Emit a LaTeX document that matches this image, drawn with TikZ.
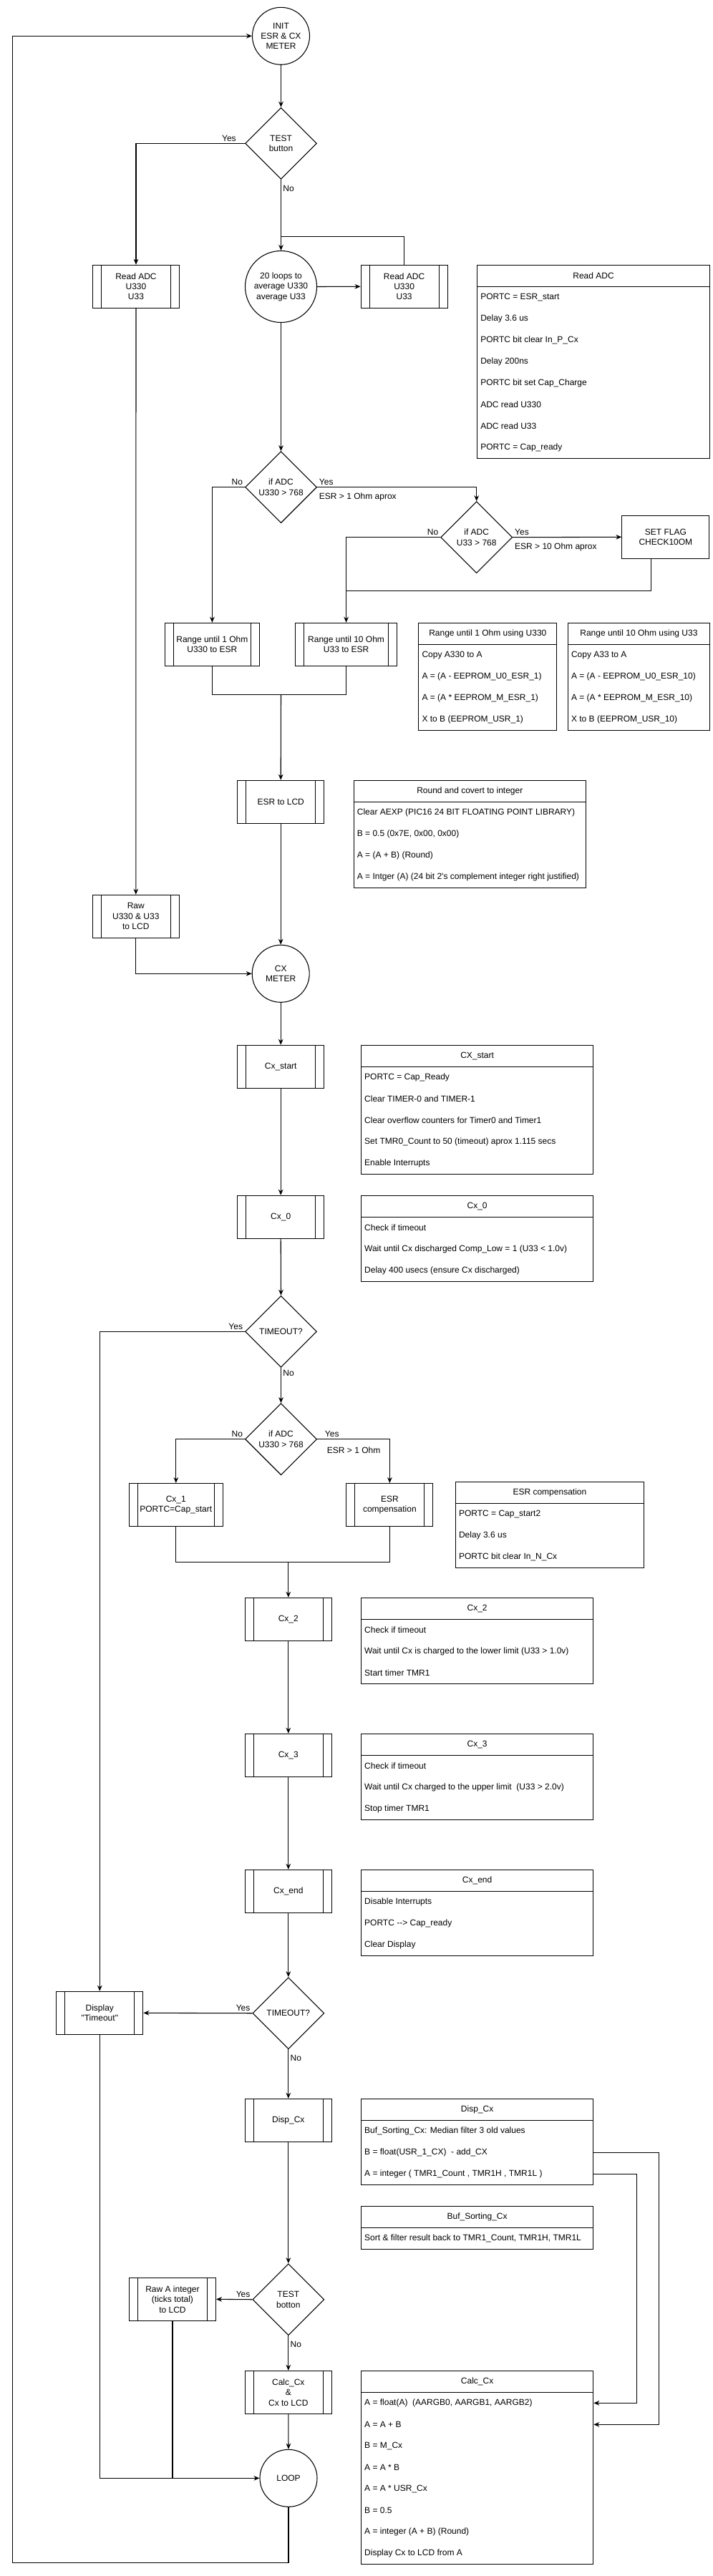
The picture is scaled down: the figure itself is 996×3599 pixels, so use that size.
\documentclass[tikz,border=0pt]{standalone}
\usepackage{fontspec}
\newfontfamily\chartfont{Liberation Sans}
\usetikzlibrary{shapes.geometric,arrows.meta}

\begin{document}
\begin{tikzpicture}[x=0.75pt,y=-0.75pt,line join=miter,
  font=\chartfont\fontsize{9}{10.8}\selectfont,
  wire/.style={line width=0.8pt},
  arr/.style={wire,-{Stealth[length=6pt,width=5pt]}},
  term/.style={draw,wire,circle,minimum size=60pt,inner sep=0pt,align=center},
  decide/.style={draw,wire,diamond,aspect=1,minimum width=75pt,minimum height=75pt,inner sep=0pt,align=center},
  plainbox/.style={draw,wire,rectangle,minimum width=91.5pt,minimum height=45pt,align=center},
  subproc/.style={draw,wire,rectangle,minimum width=90.75pt,minimum height=45pt,inner sep=1pt,align=center,
    path picture={\draw[wire] ([xshift=9pt]path picture bounding box.north west) -- ([xshift=9pt]path picture bounding box.south west)
      ([xshift=-9pt]path picture bounding box.north east) -- ([xshift=-9pt]path picture bounding box.south east);}},
  tablebox/.style={draw,wire,rectangle,anchor=north west,inner sep=0pt,minimum width=243.25pt,
    path picture={\draw[wire] ([yshift=-22.5pt]path picture bounding box.north west) -- ([yshift=-22.5pt]path picture bounding box.north east);}},
  rowtxt/.style={anchor=west,inner sep=0pt},
  lbl/.style={inner sep=2pt}]

\useasboundingbox (0,0) rectangle (996,3599);

% ESR meter part
\node[term] (init) at (392.5,50.3) {INIT\\ESR \& CX\\METER};
\node[decide] (test) at (392.5,200.3) {TEST\\button};
\node[subproc] (readL) at (190,400.3) {Read ADC\\U330\\U33};
\node[term,minimum size=75pt] (loops) at (392.5,400.5) {20 loops to\\average U330\\average U33};
\node[subproc] (readR) at (564.6,400.3) {Read ADC\\U330\\U33};
\node[decide] (d1) at (392.5,680.7) {if ADC\\U330 > 768};
\node[decide] (d2) at (665.7,750.7) {if ADC\\U33 > 768};
\node[plainbox] (flag) at (929.9,750.3) {SET FLAG\\CHECK10OM};
\node[subproc,minimum width=99pt] (rangeA) at (296.4,900.3) {Range until 1 Ohm\\U330 to ESR};
\node[subproc,minimum width=106.5pt] (rangeB) at (483.6,900.3) {Range until 10 Ohm\\U33 to ESR};
\node[subproc] (esrLcd) at (392.2,1120.3) {ESR to LCD};
\node[subproc] (rawU) at (189.8,1280.3) {Raw\\U330 \& U33\\to LCD};

% CX meter part
\node[term] (cxMeter) at (392.2,1360.3) {CX\\METER};
\node[subproc] (cxStart) at (392.2,1490.3) {Cx\_start};
\node[subproc] (cx0) at (392.2,1700.3) {Cx\_0};
\node[decide] (t1) at (392.5,1860.3) {TIMEOUT?};
\node[decide] (d3) at (392.5,2010.7) {if ADC\\U330 > 768};
\node[subproc,minimum width=98.25pt] (cx1) at (245.8,2102.5) {Cx\_1\\PORTC=Cap\_start};
\node[subproc] (esrComp) at (544.4,2102.5) {ESR\\compensation};
\node[subproc] (cx2) at (402.8,2262.3) {Cx\_2};
\node[subproc] (cx3) at (402.8,2452.3) {Cx\_3};
\node[subproc] (cxEnd) at (402.8,2642.3) {Cx\_end};
\node[decide] (t2) at (402.8,2812.7) {TIMEOUT?};
\node[subproc] (display) at (139.3,2812.3) {Display\\"Timeout"};
\node[subproc] (dispCx) at (402.8,2962.3) {Disp\_Cx};
\node[decide] (testB) at (402.8,3212.7) {TEST\\botton};
\node[subproc] (rawA) at (241,3212.3) {Raw A integer\\(ticks total)\\to LCD};
\node[subproc] (calc) at (402.8,3342.3) {Calc\_Cx\\\&\\Cx to LCD};
\node[term] (loop) at (403,3462.3) {LOOP};

% bends
\coordinate (fbTop) at (392.5,330.3);
\coordinate (joinFlag) at (483.6,825.3);
\coordinate (joinRange) at (392.5,970.3);
\coordinate (joinCx) at (402.8,2182.3);
\coordinate (backB) at (17.4,3580.3);

% connectors
\draw[arr] (init) -- (test);
\draw[arr] (test.west) -| (readL.north);
\draw[arr] (test.south) -- (loops.north);
\draw[wire] (readR.north) |- (fbTop);
\draw[arr] (loops.east) -- (readR.west);
\draw[arr] (loops.south) -- (d1.north);
\draw[arr] (d1.west) -| (rangeA.north);
\draw[arr] (d1.east) -| (d2.north);
\draw[arr] (d2.west) -| (rangeB.north);
\draw[arr] (d2.east) -- (flag.west);
\draw[wire] ([xshift=-15.5pt]flag.south) |- (joinFlag);
\draw[wire] (rangeA.south) |- (joinRange) -| (rangeB.south);
\draw[arr] (joinRange) -- (esrLcd.north);
\draw[arr] (readL.south) -- (rawU.north);
\draw[arr] (rawU.south) |- (cxMeter.west);
\draw[arr] (esrLcd.south) -- (cxMeter.north);
\draw[arr] (cxMeter.south) -- (cxStart.north);
\draw[arr] (cxStart.south) -- (cx0.north);
\draw[arr] (cx0.south) -- (t1.north);
\draw[arr] (t1.west) -| (display.north);
\draw[arr] (t1.south) -- (d3.north);
\draw[arr] (d3.west) -| (cx1.north);
\draw[arr] (d3.east) -| (esrComp.north);
\draw[wire] (cx1.south) |- (joinCx) -| (esrComp.south);
\draw[arr] (joinCx) -- (cx2.north);
\draw[arr] (cx2.south) -- (cx3.north);
\draw[arr] (cx3.south) -- (cxEnd.north);
\draw[arr] (cxEnd.south) -- (t2.north);
\draw[arr] (t2.west) -- (display.east);
\draw[arr] (t2.south) -- (dispCx.north);
\draw[arr] (dispCx.south) -- (testB.north);
\draw[arr] (testB.west) -- (rawA.east);
\draw[arr] (testB.south) -- (calc.north);
\draw[arr] (calc.south) -- (loop.north);
\draw[arr] (display.south) |- (loop.west);
\draw[wire] (rawA.south) -- (rawA.south |- loop.west);
\draw[arr] (loop.south) |- (backB) |- (init.west);

% labels
\node[lbl,anchor=south east] (yTest) at ([xshift=-7pt]test.west) {Yes};
\node[lbl,anchor=north west] (nTest) at ([yshift=-4pt]test.south) {No};
\node[lbl,above left] (nD1) at (d1.west) {No};
\node[lbl,above right] (yD1) at (d1.east) {Yes};
\node[lbl,anchor=north west] (eD1) at ([shift={(0,5)}]d1.east) {ESR > 1 Ohm aprox};
\node[lbl,above left] (nD2) at (d2.west) {No};
\node[lbl,above right] (yD2) at (d2.east) {Yes};
\node[lbl,anchor=north west] (eD2) at ([shift={(0,5)}]d2.east) {ESR > 10 Ohm aprox};
\node[lbl,above left] (yT1) at (t1.west) {Yes};
\node[lbl,below right] (nT1) at (t1.south) {No};
\node[lbl,above left] (nD3) at (d3.west) {No};
\node[lbl,anchor=south west] (yD3) at ([xshift=6pt]d3.east) {Yes};
\node[lbl,anchor=north west] (eD3) at ([shift={(11,8)}]d3.east) {ESR > 1 Ohm};
\node[lbl,above left] (yT2) at (t2.west) {Yes};
\node[lbl,anchor=north west] (nT2) at ([yshift=-4pt]t2.south) {No};
\node[lbl,above left] (yTestB) at (testB.west) {Yes};
\node[lbl,anchor=north west] (nTestB) at ([yshift=-4pt]testB.south) {No};

% tables
\node[tablebox,minimum width=243.75pt,minimum height=202.5pt] (tRead) at (666,370.3) {};
\node (tReadT) at ([yshift=-11.25pt]tRead.north) {Read ADC};
\foreach \r [count=\i] in {PORTC = ESR\_start, Delay 3.6 us, PORTC bit clear In\_P\_Cx, Delay 200ns,
    PORTC bit set Cap\_Charge, ADC read U330, ADC read U33, PORTC = Cap\_ready}
  \node[rowtxt] (tRead\i) at ([shift={(5,15+30*\i)}]tRead.north west) {\r};

\node[tablebox,minimum width=144.75pt,minimum height=112.5pt] (tRangeA) at (584.3,870.3) {};
\node (tRangeAT) at ([yshift=-11.25pt]tRangeA.north) {Range until 1 Ohm using U330};
\foreach \r [count=\i] in {Copy A330 to A, A = (A - EEPROM\_U0\_ESR\_1), A = (A * EEPROM\_M\_ESR\_1), X to B (EEPROM\_USR\_1)}
  \node[rowtxt] (tRangeA\i) at ([shift={(5,15+30*\i)}]tRangeA.north west) {\r};

\node[tablebox,minimum width=148.65pt,minimum height=112.5pt] (tRangeB) at (792.8,870.3) {};
\node (tRangeBT) at ([yshift=-11.25pt]tRangeB.north) {Range until 10 Ohm using U33};
\foreach \r [count=\i] in {Copy A33 to A, A = (A - EEPROM\_U0\_ESR\_10), A = (A * EEPROM\_M\_ESR\_10), X to B (EEPROM\_USR\_10)}
  \node[rowtxt] (tRangeB\i) at ([shift={(5,15+30*\i)}]tRangeB.north west) {\r};

\node[tablebox,minimum height=112.5pt] (tRound) at (493.6,1090.3) {};
\node (tRoundT) at ([yshift=-11.25pt]tRound.north) {Round and covert to integer};
\foreach \r [count=\i] in {Clear AEXP (PIC16 24 BIT FLOATING POINT LIBRARY), {B = 0.5 (0x7E, 0x00, 0x00)},
    A = (A + B) (Round), A = Intger (A) (24 bit 2's complement integer right justified)}
  \node[rowtxt] (tRound\i) at ([shift={(5,15+30*\i)}]tRound.north west) {\r};

\node[tablebox,minimum height=135pt] (tCxStart) at (503.9,1460.3) {};
\node (tCxStartT) at ([yshift=-11.25pt]tCxStart.north) {CX\_start};
\foreach \r [count=\i] in {PORTC = Cap\_Ready, Clear TIMER-0 and TIMER-1, Clear overflow counters for Timer0 and Timer1,
    Set TMR0\_Count to 50 (timeout) aprox 1.115 secs, Enable Interrupts}
  \node[rowtxt] (tCxStart\i) at ([shift={(5,15+30*\i)}]tCxStart.north west) {\r};

\node[tablebox,minimum height=90pt] (tCx0) at (503.9,1670.3) {};
\node (tCx0T) at ([yshift=-11.25pt]tCx0.north) {Cx\_0};
\foreach \r [count=\i] in {Check if timeout, Wait until Cx discharged Comp\_Low = 1 (U33 < 1.0v), Delay 400 usecs (ensure Cx discharged)}
  \node[rowtxt] (tCx0\i) at ([shift={(5,15+30*\i)}]tCx0.north west) {\r};

\node[tablebox,minimum width=197.4pt,minimum height=90pt] (tEsrComp) at (635.8,2070.3) {};
\node (tEsrCompT) at ([yshift=-11.25pt]tEsrComp.north) {ESR compensation};
\foreach \r [count=\i] in {PORTC = Cap\_start2, Delay 3.6 us, PORTC bit clear In\_N\_Cx}
  \node[rowtxt] (tEsrComp\i) at ([shift={(5,15+30*\i)}]tEsrComp.north west) {\r};

\node[tablebox,minimum height=90pt] (tCx2) at (503.9,2232.3) {};
\node (tCx2T) at ([yshift=-11.25pt]tCx2.north) {Cx\_2};
\foreach \r [count=\i] in {Check if timeout, Wait until Cx is charged to the lower limit (U33 > 1.0v), Start timer TMR1}
  \node[rowtxt] (tCx2\i) at ([shift={(5,15+30*\i)}]tCx2.north west) {\r};

\node[tablebox,minimum height=90pt] (tCx3) at (503.9,2422.3) {};
\node (tCx3T) at ([yshift=-11.25pt]tCx3.north) {Cx\_3};
\foreach \r [count=\i] in {Check if timeout, Wait until Cx charged to the upper limit\ \ (U33 > 2.0v), Stop timer TMR1}
  \node[rowtxt] (tCx3\i) at ([shift={(5,15+30*\i)}]tCx3.north west) {\r};

\node[tablebox,minimum height=90pt] (tCxEnd) at (503.9,2612.3) {};
\node (tCxEndT) at ([yshift=-11.25pt]tCxEnd.north) {Cx\_end};
\foreach \r [count=\i] in {Disable Interrupts, PORTC \mbox{-}\mbox{-}> Cap\_ready, Clear Display}
  \node[rowtxt] (tCxEnd\i) at ([shift={(5,15+30*\i)}]tCxEnd.north west) {\r};

\node[tablebox,minimum height=90pt] (tDisp) at (503.9,2932.3) {};
\node (tDispT) at ([yshift=-11.25pt]tDisp.north) {Disp\_Cx};
\foreach \r [count=\i] in {Buf\_Sorting\_Cx: Median filter 3 old values, B = float(USR\_1\_CX)\ \ - add\_CX,
    {A = integer ( TMR1\_Count , TMR1H , TMR1L )}}
  \node[rowtxt] (tDisp\i) at ([shift={(5,15+30*\i)}]tDisp.north west) {\r};

\node[tablebox,minimum height=45pt] (tBuf) at (503.9,3082.3) {};
\node (tBufT) at ([yshift=-11.25pt]tBuf.north) {Buf\_Sorting\_Cx};
\node[rowtxt] (tBuf1) at ([shift={(5,45)}]tBuf.north west) {Sort \& filter result back to TMR1\_Count, TMR1H, TMR1L};

\node[tablebox,minimum height=202.5pt] (tCalc) at (503.9,3312.3) {};
\node (tCalcT) at ([yshift=-11.25pt]tCalc.north) {Calc\_Cx};
\foreach \r [count=\i] in {{A = float(A)\ \ (AARGB0, AARGB1, AARGB2)}, A = A + B, B = M\_Cx, A = A * B,
    A = A * USR\_Cx, B = 0.5, A = integer (A + B) (Round), Display Cx to LCD from A}
  \node[rowtxt] (tCalc\i) at ([shift={(5,15+30*\i)}]tCalc.north west) {\r};

% values passed to Calc_Cx
\draw[arr] (tDisp.east |- tDisp2) -- ++(91,0) |- (tCalc.east |- tCalc2);
\draw[arr] (tDisp.east |- tDisp3) -- ++(60.5,0) |- (tCalc.east |- tCalc1);

\end{tikzpicture}
\end{document}
